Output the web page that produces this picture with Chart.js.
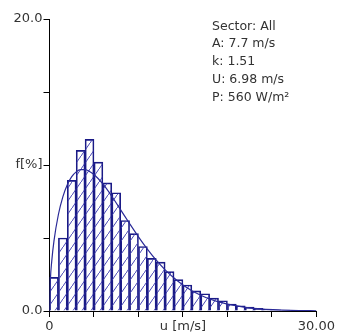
<!DOCTYPE html>
<html>
<head>
<meta charset="utf-8">
<script src="https://cdn.jsdelivr.net/npm/chart.js@4/dist/chart.umd.min.js"></script>
<style>
	body { margin: 0; background: #fff; }
	canvas { display: block; }
</style>
</head>
<body>
<canvas id="windChart" width="337" height="335"></canvas>
<script>
// histogram bins, 1 m/s wide, by bin centre
var binCenters = [0.5, 1.5, 2.5, 3.5, 4.5, 5.5, 6.5, 7.5, 8.5, 9.5, 10.5, 11.5, 12.5, 13.5,
	14.5, 15.5, 16.5, 17.5, 18.5, 19.5, 20.5, 21.5, 22.5, 23.5, 24.5, 25.5, 26.5, 27.5];
var binFreq = [2.3, 5.0, 8.95, 11.0, 11.75, 10.2, 8.78, 8.1, 6.2, 5.3, 4.42, 3.6, 3.35, 2.7,
	2.15, 1.78, 1.38, 1.18, 0.88, 0.7, 0.48, 0.36, 0.26, 0.18, 0.12, 0.08, 0.06, 0.05];

// fitted curve
var curveU = [0, 0.1, 0.25, 0.5, 1, 1.5, 2, 2.5, 3, 3.5, 4, 4.5, 5, 6, 7, 8, 9, 10, 11, 12,
	13, 14, 15, 16, 17, 18, 19, 20, 22, 24, 26, 28, 30];
var curveF = [0, 2.14, 3.4, 4.79, 6.61, 7.82, 8.65, 9.2, 9.53, 9.68, 9.68, 9.56, 9.35, 8.7,
	7.86, 6.93, 5.99, 5.08, 4.24, 3.48, 2.82, 2.26, 1.78, 1.39, 1.08, 0.82, 0.62, 0.47,
	0.25, 0.13, 0.07, 0.03, 0.015];

var xTickLabels = ['0', '', '', 'u [m/s]', '', '', '30.00'];
var yTickLabels = ['0.0', '', 'f[%]', '', '20.0'];
var infoLines = ['Sector: All', 'A: 7.7 m/s', 'k: 1.51', 'U: 6.98 m/s', 'P: 560 W/m\u00b2'];

var FONT = '"DejaVu Sans", sans-serif';

// diagonal hatch for the bars
function makeHatch() {
	var c = document.createElement('canvas');
	c.width = 9;
	c.height = 13;
	var g = c.getContext('2d');
	g.strokeStyle = '#4646b4';
	g.lineWidth = 1;
	g.beginPath();
	g.moveTo(-1, 13 + 13 / 9);
	g.lineTo(10, -13 / 9);
	g.stroke();
	return g.createPattern(c, 'repeat');
}

var infoText = {
	id: 'infoText',
	afterDraw: function (chart) {
		var ctx = chart.ctx;
		ctx.save();
		ctx.font = '12.5px ' + FONT;
		ctx.fillStyle = '#333';
		ctx.textBaseline = 'middle';
		ctx.textAlign = 'left';
		for (var i = 0; i < infoLines.length; i++) {
			ctx.fillText(infoLines[i], 212, 26.5 + i * 17.7);
		}
		ctx.restore();
	}
};

var ctx = document.getElementById('windChart').getContext('2d');
var windChart = new Chart(ctx, {
	type: 'bar',
	data: {
		datasets: [{
			type: 'line',
			data: curveU.map(function (u, i) { return { x: u, y: curveF[i] }; }),
			borderColor: '#2a2a98',
			borderWidth: 1.2,
			pointRadius: 0,
			fill: false,
			cubicInterpolationMode: 'monotone',
			order: 0
		}, {
			type: 'bar',
			data: binCenters.map(function (u, i) { return { x: u, y: binFreq[i] }; }),
			backgroundColor: makeHatch(),
			borderColor: '#1a1a86',
			borderWidth: 1,
			barPercentage: 1,
			categoryPercentage: 1,
			order: 1
		}]
	},
	options: {
		responsive: false,
		animation: false,
		layout: {
			autoPadding: false,
			padding: { left: 0, right: 19, top: 19, bottom: 0 }
		},
		scales: {
			x: {
				type: 'linear',
				min: 0,
				max: 30,
				offset: false,
				afterFit: function (scale) { scale.height = 24; },
				afterBuildTicks: function (scale) {
					scale.ticks = [0, 5, 10, 15, 20, 25, 30].map(function (v) { return { value: v }; });
				},
				ticks: {
					autoSkip: false,
					maxRotation: 0,
					padding: 2,
					color: '#333',
					font: { family: FONT, size: 13 },
					callback: function (v, i) { return xTickLabels[i]; }
				},
				grid: { offset: false, drawOnChartArea: false, tickLength: 6, color: '#000' },
				border: { color: '#000', width: 1 }
			},
			y: {
				min: 0,
				max: 20,
				afterFit: function (scale) { scale.width = 49.5; },
				afterBuildTicks: function (scale) {
					scale.ticks = [0, 5, 10, 15, 20].map(function (v) { return { value: v }; });
				},
				ticks: {
					autoSkip: false,
					padding: 1,
					color: '#333',
					font: { family: FONT, size: 13 },
					callback: function (v, i) { return yTickLabels[i]; }
				},
				grid: { drawOnChartArea: false, tickLength: 6, color: '#000' },
				border: { color: '#000', width: 1 }
			}
		},
		plugins: {
			legend: { display: false },
			tooltip: { enabled: false }
		}
	},
	plugins: [infoText]
});
</script>
</body>
</html>
